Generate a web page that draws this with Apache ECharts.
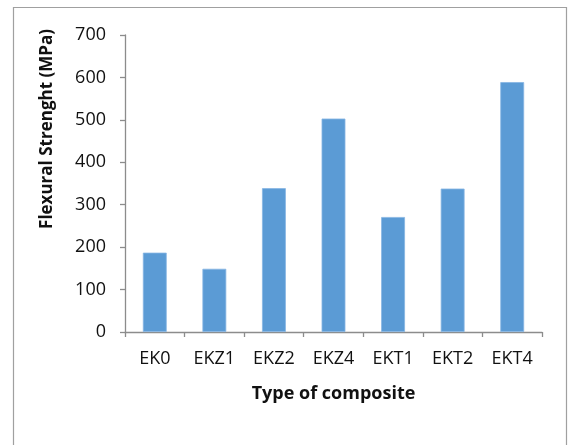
<!DOCTYPE html>
<html><head><meta charset="utf-8">
<script src="https://cdn.jsdelivr.net/npm/echarts@6/dist/echarts.min.js"></script>
<style>html,body{margin:0;padding:0;background:#fff}#c{width:568px;height:445px}</style>
</head><body><div id="c"></div>
<script>
const categories = ['EK0','EKZ1','EKZ2','EKZ4','EKT1','EKT2','EKT4'];
const strength = [187, 149, 339, 503, 271, 338, 589];
const yTitle = 'Flexural Strenght (MPa)';
const xTitle = 'Type of composite';
const font = '"Open Sans", "Liberation Sans", sans-serif';
const chart = echarts.init(document.getElementById('c'));
chart.setOption({
  animation: false,
  backgroundColor: '#fff',
  graphic: [
    {type:'rect', shape:{x:13.5, y:7.5, width:553, height:460}, style:{fill:'none', stroke:'#a0a0a0', lineWidth:1.2}},
    {type:'text', x:47, y:129, rotation:Math.PI/2,
     style:{text:yTitle, fill:'#111', font:'bold 17px ' + font, textAlign:'center', textVerticalAlign:'middle'}}
  ],
  grid: {left:125, right:26, top:35, bottom:113},
  xAxis: {
    type:'category', data:categories,
    axisLine:{lineStyle:{color:'#8c8c8c', width:1.3}},
    axisTick:{show:true, length:5, lineStyle:{color:'#8c8c8c', width:1.3}},
    axisLabel:{color:'#111', fontFamily:font, fontSize:18, margin:18},
    name:xTitle, nameLocation:'middle', nameGap:53,
    nameTextStyle:{color:'#111', fontFamily:font, fontSize:18, fontWeight:'bold'}
  },
  yAxis: {
    type:'value', min:0, max:700, interval:100,
    splitLine:{show:false},
    axisLine:{show:true, lineStyle:{color:'#8c8c8c', width:1.3}},
    axisTick:{show:true, length:5, lineStyle:{color:'#8c8c8c', width:1.3}},
    axisLabel:{color:'#111', fontFamily:font, fontSize:18, margin:19}
  },
  series: [{
    type:'bar', data:strength, barCategoryGap:'60%',
    itemStyle:{color:'#5b9bd5', borderColor:'#86b5e3', borderWidth:0.8}
  }]
});
</script></body></html>
